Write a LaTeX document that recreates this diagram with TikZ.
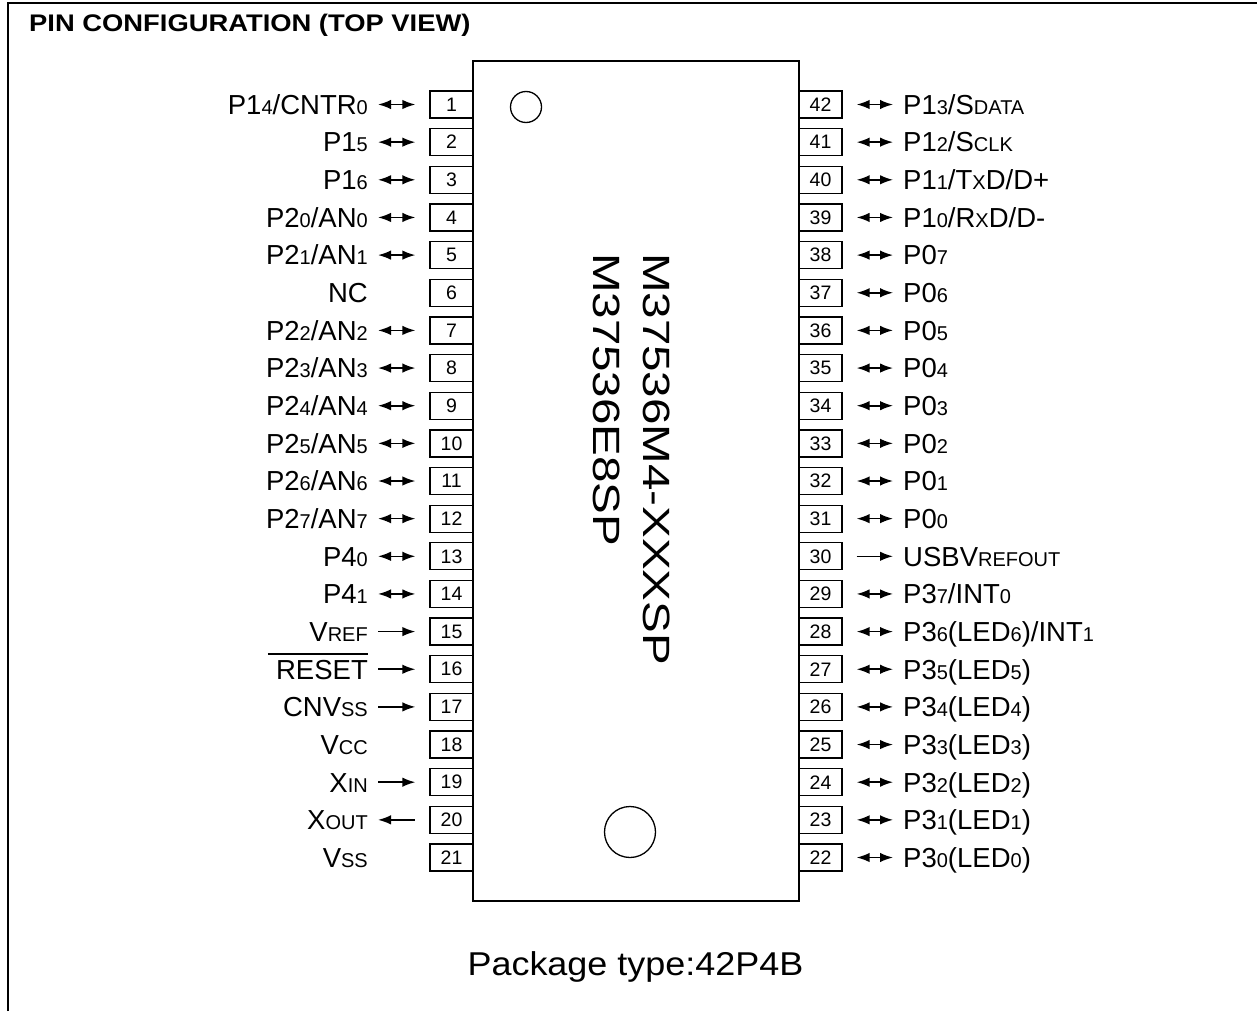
\documentclass[tikz,border=0pt]{standalone}
\usepackage{fontspec}
\setmainfont{Liberation Sans}
\usepackage{graphicx}
\usetikzlibrary{arrows.meta}
\newcommand{\sbs}[1]{{\fontsize{20}{20}\selectfont #1}}
\newcommand{\lblfont}{\fontsize{27.5}{30}\selectfont}
\begin{document}
\begin{tikzpicture}[x=1pt,y=-1pt,
  pinbox/.style={draw, line width=1.3pt, minimum width=43pt, minimum height=27pt, inner sep=0pt, font=\fontsize{19.5}{19.5}\selectfont},
  lbl/.style={inner sep=0pt, font=\lblfont},
  tip/.tip={Latex[length=13pt,width=9.5pt]},
  lkb/.style={line width=1.6pt, tip-tip},
  lkf/.style={line width=1.6pt, -tip},
  lkr/.style={line width=1.6pt, tip-},
  lkn/.style={draw=none},
  dotmark/.style={circle, draw, line width=1.3pt, inner sep=0pt},
]
\useasboundingbox (0,0) rectangle (1257,1011);
% frame
\draw[line width=2pt] (8,1011) -- (8,3.5) -- (1257,3.5);
\node[anchor=base west, inner sep=0pt, font=\fontsize{24}{26}\selectfont\bfseries] (title) at (29,32) {\scalebox{1.14}[1]{PIN CONFIGURATION (TOP VIEW)}};
% chip body
\node[draw, line width=1.6pt, minimum width=326pt, minimum height=840pt, inner sep=0pt] (chip) at (636,481) {};
\node[dotmark, minimum size=31pt] (mark1) at (526,107) {};
\node[dotmark, minimum size=51pt] (mark2) at (630,832) {};
\node[rotate=-90, anchor=base west, inner sep=0pt, font=\fontsize{38}{40}\selectfont] (pn1) at (643,253) {\scalebox{1.25}[1]{M37536M4-XXXSP}};
\node[rotate=-90, anchor=base west, inner sep=0pt, font=\fontsize{38}{40}\selectfont] (pn2) at (593,253) {\scalebox{1.25}[1]{M37536E8SP}};
% left pins
\foreach \n/\t/\k in {
 1/{P1\sbs{4}/CNTR\sbs{0}}/b,
 2/{P1\sbs{5}}/b,
 3/{P1\sbs{6}}/b,
 4/{P2\sbs{0}/AN\sbs{0}}/b,
 5/{P2\sbs{1}/AN\sbs{1}}/b,
 6/{NC}/n,
 7/{P2\sbs{2}/AN\sbs{2}}/b,
 8/{P2\sbs{3}/AN\sbs{3}}/b,
 9/{P2\sbs{4}/AN\sbs{4}}/b,
 10/{P2\sbs{5}/AN\sbs{5}}/b,
 11/{P2\sbs{6}/AN\sbs{6}}/b,
 12/{P2\sbs{7}/AN\sbs{7}}/b,
 13/{P4\sbs{0}}/b,
 14/{P4\sbs{1}}/b,
 15/{V\sbs{REF}}/f,
 16/{RESET}/f,
 17/{CNV\sbs{SS}}/f,
 18/{V\sbs{CC}}/n,
 19/{X\sbs{IN}}/f,
 20/{X\sbs{OUT}}/r,
 21/{V\sbs{SS}}/n}{
  \pgfmathsetmacro\yy{104.5+(\n-1)*37.65}
  \node[pinbox] (L\n) at (451.5,\yy) {\n};
  \node[lbl, anchor=base east] (LL\n) at (368,\yy+9.8) {\t};
  \draw[lk\k, shorten <=10pt, shorten >=14pt] (LL\n.east |- L\n.west) -- (L\n.west);
}
\draw[line width=1.3pt] ([xshift=-8pt,yshift=5.6pt]LL16.north west) -- ([yshift=5.6pt]LL16.north east);
% right pins
\foreach \n/\t/\k in {
 42/{P1\sbs{3}/S\sbs{DATA}}/b,
 41/{P1\sbs{2}/S\sbs{CLK}}/b,
 40/{P1\sbs{1}/T\sbs{X}D/D+}/b,
 39/{P1\sbs{0}/R\sbs{X}D/D-}/b,
 38/{P0\sbs{7}}/b,
 37/{P0\sbs{6}}/b,
 36/{P0\sbs{5}}/b,
 35/{P0\sbs{4}}/b,
 34/{P0\sbs{3}}/b,
 33/{P0\sbs{2}}/b,
 32/{P0\sbs{1}}/b,
 31/{P0\sbs{0}}/b,
 30/{USBV\sbs{REFOUT}}/f,
 29/{P3\sbs{7}/INT\sbs{0}}/b,
 28/{P3\sbs{6}(LED\sbs{6})/INT\sbs{1}}/b,
 27/{P3\sbs{5}(LED\sbs{5})}/b,
 26/{P3\sbs{4}(LED\sbs{4})}/b,
 25/{P3\sbs{3}(LED\sbs{3})}/b,
 24/{P3\sbs{2}(LED\sbs{2})}/b,
 23/{P3\sbs{1}(LED\sbs{1})}/b,
 22/{P3\sbs{0}(LED\sbs{0})}/b}{
  \pgfmathsetmacro\yy{104.5+(42-\n)*37.65}
  \node[pinbox] (R\n) at (820.5,\yy) {\n};
  \node[lbl, anchor=base west] (RL\n) at (903,\yy+9.8) {\t};
  \draw[lk\k, shorten <=14pt, shorten >=10pt] (R\n.east) -- (RL\n.west |- R\n.east);
}
\node[anchor=base, inner sep=0pt, font=\fontsize{33}{36}\selectfont] (pkg) at (635.5,975) {\scalebox{1.09}[1]{Package type:42P4B}};
\end{tikzpicture}
\end{document}
